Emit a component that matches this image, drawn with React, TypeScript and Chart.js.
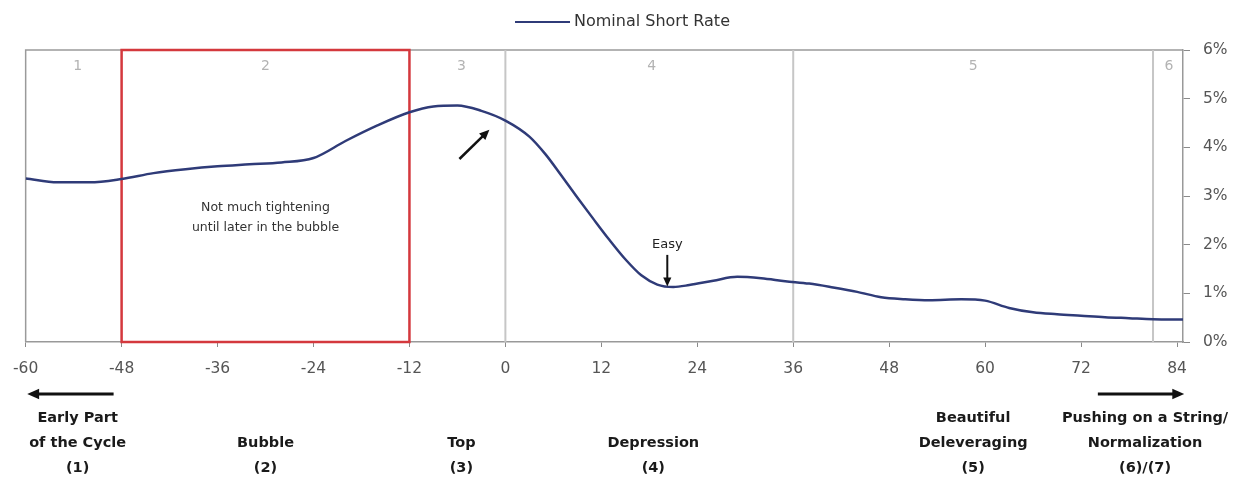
import React, { useEffect, useRef } from "react";
import { Chart, registerables } from "chart.js";

Chart.register(...registerables);

// ---- data ----
const months = [
  -60, -56, -52, -48, -44, -40, -36, -32, -28, -24, -20, -16, -12, -9, -6, -3, 0, 3, 5, 7, 9, 11, 13, 15, 17,
  19, 21, 23, 26, 29, 32, 35, 38, 41, 44, 47, 50, 53, 57, 60, 63, 66, 69, 72, 75, 78, 81, 84.75,
];
const nominalShortRate = [
  3.36, 3.28, 3.28, 3.35, 3.47, 3.55, 3.61, 3.65, 3.69, 3.78, 4.13, 4.45, 4.72, 4.84, 4.86, 4.75, 4.55, 4.22,
  3.86, 3.42, 2.97, 2.53, 2.1, 1.7, 1.37, 1.18, 1.13, 1.17, 1.26, 1.34, 1.31, 1.25, 1.2, 1.12, 1.03, 0.92,
  0.88, 0.86, 0.88, 0.85, 0.7, 0.61, 0.57, 0.54, 0.51, 0.49, 0.47, 0.46,
];
const xTickValues = [-60, -48, -36, -24, -12, 0, 12, 24, 36, 48, 60, 72, 84];
const yTickValues = [0, 1, 2, 3, 4, 5, 6];
const phaseBoundaries = [0, 36, 81];
const bubbleRange = [-48, -12];
const phaseNumbers = ["1", "2", "3", "4", "5", "6"];
const phaseNumberCenters = [-53.5, -30, -5.5, 18.3, 58.5, 83];
const phaseNames = [
  ["Early Part", "of the Cycle", "(1)"],
  ["Bubble", "(2)"],
  ["Top", "(3)"],
  ["Depression", "(4)"],
  ["Beautiful", "Deleveraging", "(5)"],
  ["Pushing on a String/", "Normalization", "(6)/(7)"],
];
const phaseNameCenters = [-53.5, -30, -5.5, 18.5, 58.5, 80];
const bubbleNote = ["Not much tightening", "until later in the bubble"];
const bubbleNoteAt = { x: -30, y: [2.75, 2.34] };
const riseArrow = { from: [-5.75, 3.76], to: [-2, 4.36] };
const easyNote = { text: "Easy", x: 20.25, textY: 2.01, arrowFrom: 1.79, arrowTo: 1.14 };
const earlyArrow = [-49, -59.8];
const laterArrow = [74.1, 84.9];

const FONT = '"DejaVu Sans", "Open Sans", sans-serif';
const LINE_COLOR = "#2f3b78";

function drawArrow(ctx: CanvasRenderingContext2D, x1: number, y1: number, x2: number, y2: number, w: number, head: number) {
  const ang = Math.atan2(y2 - y1, x2 - x1);
  ctx.lineWidth = w;
  ctx.beginPath();
  ctx.moveTo(x1, y1);
  ctx.lineTo(x2 - head * 0.8 * Math.cos(ang), y2 - head * 0.8 * Math.sin(ang));
  ctx.stroke();
  ctx.beginPath();
  ctx.moveTo(x2, y2);
  ctx.lineTo(x2 - head * Math.cos(ang - 0.42), y2 - head * Math.sin(ang - 0.42));
  ctx.lineTo(x2 - head * Math.cos(ang + 0.42), y2 - head * Math.sin(ang + 0.42));
  ctx.closePath();
  ctx.fill();
}

const overlay = {
  id: "overlay",
  beforeDatasetsDraw(chart: any) {
    const { ctx, chartArea: a, scales } = chart;
    const x = scales.x;
    ctx.save();
    ctx.strokeStyle = "#9a9a9a";
    ctx.lineWidth = 1.5;
    ctx.beginPath();
    ctx.moveTo(a.left, a.bottom);
    ctx.lineTo(a.left, a.top);
    ctx.lineTo(a.right, a.top);
    ctx.stroke();

    ctx.strokeStyle = "#c6c6c6";
    ctx.lineWidth = 2;
    phaseBoundaries.forEach((v) => {
      const px = x.getPixelForValue(v);
      ctx.beginPath();
      ctx.moveTo(px, a.top);
      ctx.lineTo(px, a.bottom);
      ctx.stroke();
    });

    ctx.fillStyle = "#b3b3b3";
    ctx.font = `14px ${FONT}`;
    ctx.textAlign = "center";
    ctx.textBaseline = "middle";
    phaseNumbers.forEach((t, i) => ctx.fillText(t, x.getPixelForValue(phaseNumberCenters[i]), a.top + 16));

    ctx.strokeStyle = "#d4383d";
    ctx.lineWidth = 2.5;
    const x0 = x.getPixelForValue(bubbleRange[0]);
    const x1 = x.getPixelForValue(bubbleRange[1]);
    ctx.strokeRect(x0, a.top, x1 - x0, a.bottom - a.top);
    ctx.restore();
  },
  afterDatasetsDraw(chart: any) {
    const { ctx, chartArea: a, scales } = chart;
    const x = scales.x;
    const y = scales.y;
    ctx.save();

    // legend
    const label = chart.data.datasets[0].label as string;
    ctx.font = `16px ${FONT}`;
    const tw = ctx.measureText(label).width;
    const total = 55 + 4 + tw;
    const lx = chart.width / 2 - total / 2;
    ctx.strokeStyle = LINE_COLOR;
    ctx.lineWidth = 2;
    ctx.beginPath();
    ctx.moveTo(lx, 22);
    ctx.lineTo(lx + 55, 22);
    ctx.stroke();
    ctx.fillStyle = "#333";
    ctx.textAlign = "left";
    ctx.textBaseline = "middle";
    ctx.fillText(label, lx + 59, 22);

    ctx.fillStyle = "#333";
    ctx.strokeStyle = "#111";
    ctx.textAlign = "center";
    ctx.textBaseline = "middle";
    ctx.font = `12.5px ${FONT}`;
    bubbleNote.forEach((t, i) => ctx.fillText(t, x.getPixelForValue(bubbleNoteAt.x), y.getPixelForValue(bubbleNoteAt.y[i])));

    ctx.fillStyle = "#111";
    drawArrow(
      ctx,
      x.getPixelForValue(riseArrow.from[0]),
      y.getPixelForValue(riseArrow.from[1]),
      x.getPixelForValue(riseArrow.to[0]),
      y.getPixelForValue(riseArrow.to[1]),
      2.5,
      11
    );

    ctx.fillStyle = "#222";
    ctx.font = `13px ${FONT}`;
    const ex = x.getPixelForValue(easyNote.x);
    ctx.fillText(easyNote.text, ex, y.getPixelForValue(easyNote.textY));
    ctx.fillStyle = "#111";
    drawArrow(ctx, ex, y.getPixelForValue(easyNote.arrowFrom), ex, y.getPixelForValue(easyNote.arrowTo), 2, 10);

    // bottom arrows
    const ay = a.bottom + 52;
    drawArrow(ctx, x.getPixelForValue(earlyArrow[0]), ay, x.getPixelForValue(earlyArrow[1]), ay, 3, 13);
    drawArrow(ctx, x.getPixelForValue(laterArrow[0]), ay, x.getPixelForValue(laterArrow[1]), ay, 3, 13);

    // bottom phase names
    ctx.fillStyle = "#1a1a1a";
    ctx.font = `bold 14.5px ${FONT}`;
    phaseNames.forEach((lines, i) => {
      const px = x.getPixelForValue(phaseNameCenters[i]);
      const n = lines.length;
      lines.forEach((t, j) => {
        ctx.fillText(t, px, a.bottom + 126 - 25 * (n - 1 - j));
      });
    });
    ctx.restore();
  },
};

export default function App() {
  const ref = useRef<HTMLCanvasElement>(null);
  useEffect(() => {
    const chart = new Chart(ref.current!, {
      type: "line",
      data: {
        datasets: [
          {
            label: "Nominal Short Rate",
            data: months.map((m, i) => ({ x: m, y: nominalShortRate[i] })),
            borderColor: LINE_COLOR,
            backgroundColor: LINE_COLOR,
            borderWidth: 2.5,
            pointRadius: 0,
            tension: 0.4,
            cubicInterpolationMode: "monotone",
          },
        ],
      },
      options: {
        animation: false,
        responsive: true,
        maintainAspectRatio: false,
        layout: { padding: { left: 25, right: 0, top: 50, bottom: 96 } },
        plugins: {
          tooltip: { enabled: false },
          legend: { display: false },
        },
        scales: {
          x: {
            type: "linear",
            min: -60,
            max: 84.75,
            afterBuildTicks: (s: any) => {
              s.ticks = xTickValues.map((v) => ({ value: v }));
            },
            afterFit: (s: any) => {
              s.height = 40;
            },
            grid: { drawOnChartArea: false, drawTicks: true, tickLength: 5, color: "#8a8a8a" },
            border: { display: true, color: "#999", width: 1.5 },
            ticks: { color: "#555", font: { family: FONT, size: 15.5 }, padding: 13, maxRotation: 0 },
          },
          y: {
            type: "linear",
            position: "right",
            min: 0,
            max: 6,
            afterBuildTicks: (s: any) => {
              s.ticks = yTickValues.map((v) => ({ value: v }));
            },
            afterFit: (s: any) => {
              s.width = 62;
            },
            grid: { drawOnChartArea: false, drawTicks: true, tickLength: 7, color: "#8a8a8a" },
            border: { display: true, color: "#999", width: 1.5 },
            ticks: {
              color: "#555",
              font: { family: FONT, size: 15.5 },
              padding: 13,
              callback: (v: any) => `${v}%`,
            },
          },
        },
      },
      plugins: [overlay],
    });
    return () => chart.destroy();
  }, []);
  return (
    <div style={{ position: "absolute", left: 0, top: 0, width: 1245, height: 478 }}>
      <canvas ref={ref} />
    </div>
  );
}
